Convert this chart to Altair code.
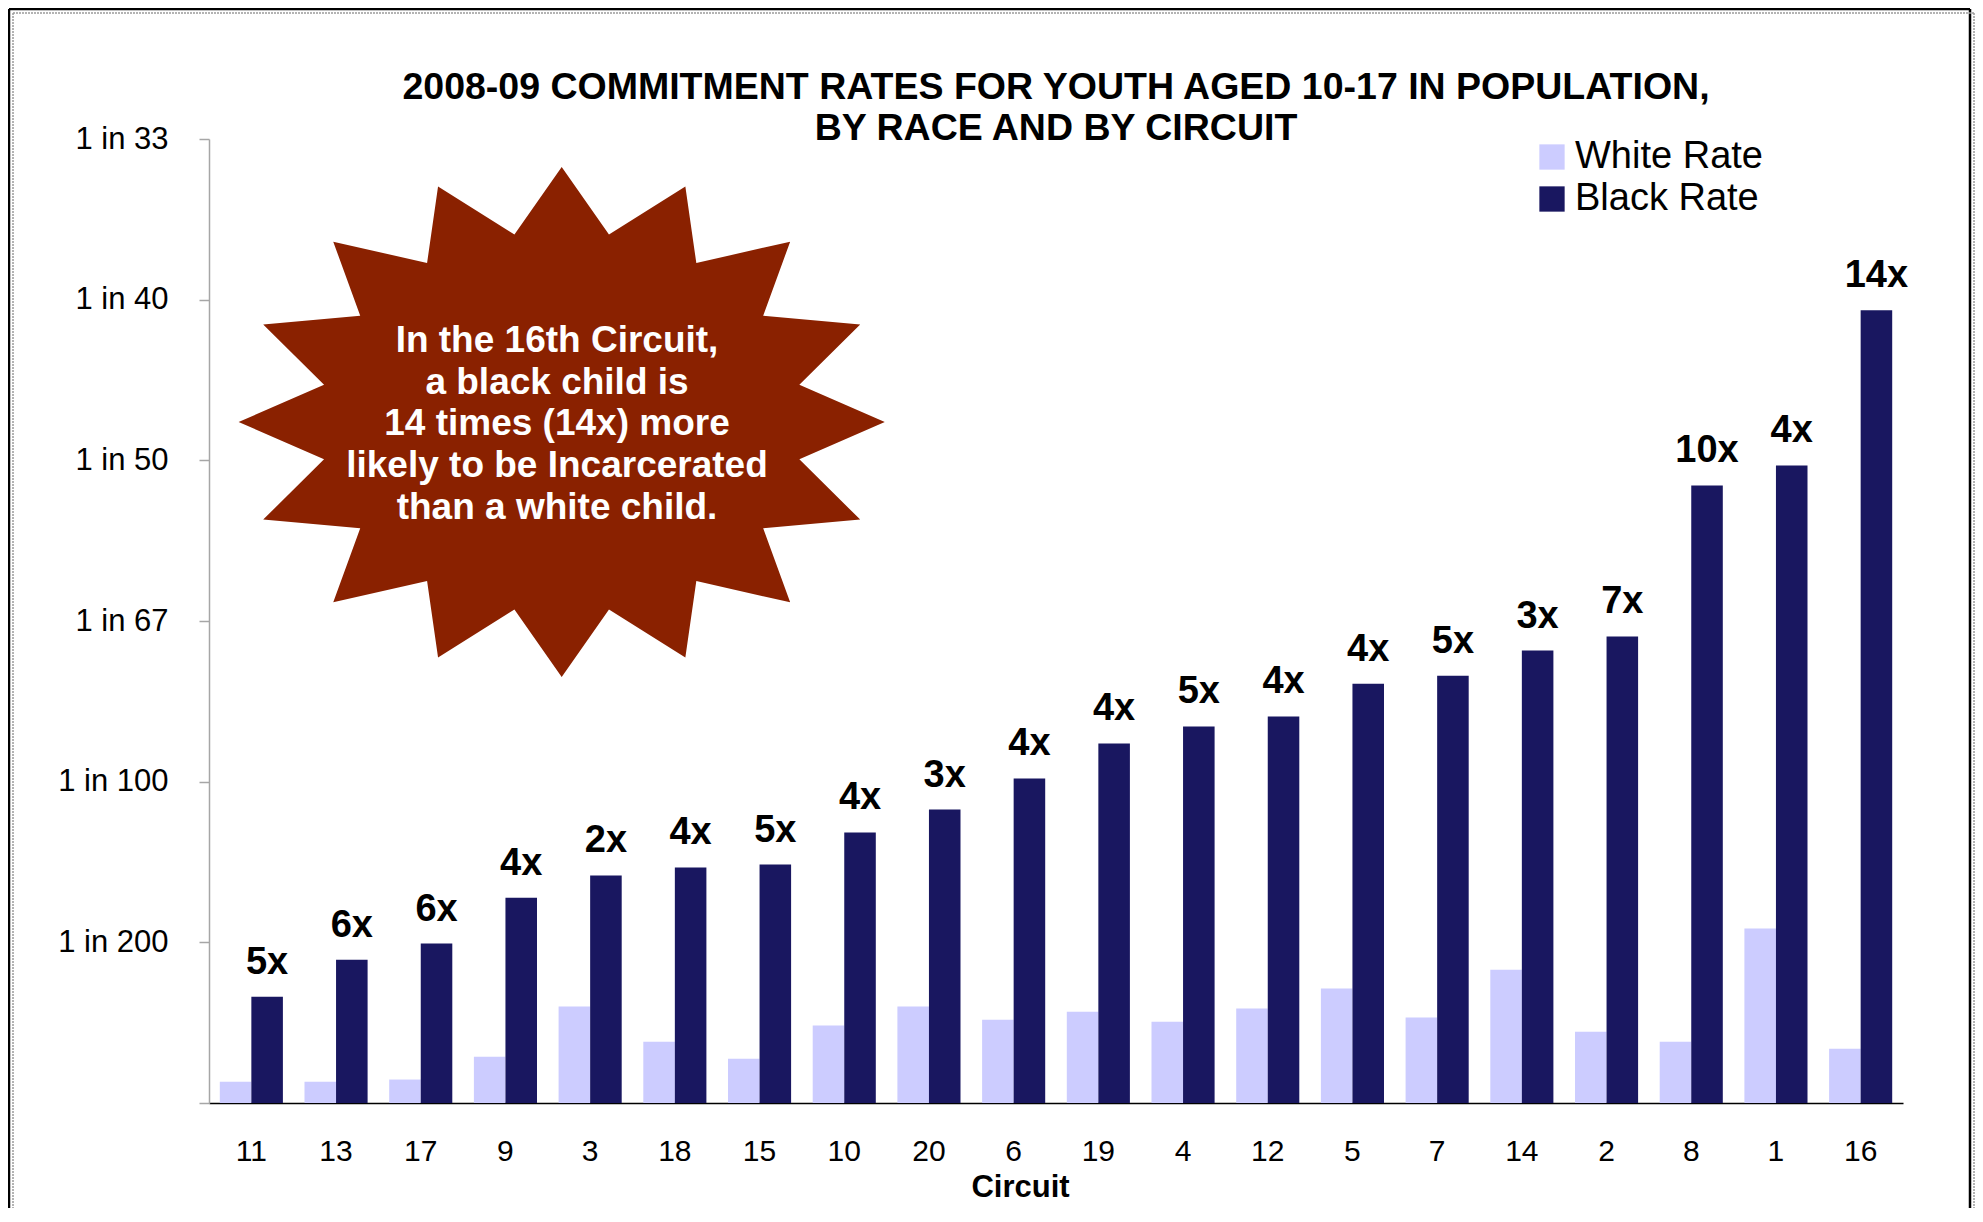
import json
import math
import altair as alt
import pandas as pd

# ---------------- data ----------------
circuits = ["11", "13", "17", "9", "3", "18", "15", "10", "20", "6",
            "19", "4", "12", "5", "7", "14", "2", "8", "1", "16"]
white_rate = [0.00066, 0.00066, 0.00073, 0.00144, 0.00300, 0.00191, 0.00138, 0.00241, 0.00300, 0.00259,
              0.00284, 0.00253, 0.00294, 0.00356, 0.00266, 0.00415, 0.00222, 0.00191, 0.00543, 0.00169]
black_rate = [0.00331, 0.00446, 0.00496, 0.00639, 0.00708, 0.00733, 0.00742, 0.00842, 0.00913, 0.01010,
              0.01119, 0.01172, 0.01203, 0.01305, 0.01330, 0.01408, 0.01452, 0.01922, 0.01984, 0.02467]
ratio_labels = ["5x", "6x", "6x", "4x", "2x", "4x", "5x", "4x", "3x", "4x",
                "4x", "5x", "4x", "4x", "5x", "3x", "7x", "10x", "4x", "14x"]
series_names = ["White Rate", "Black Rate"]
series_colors = ["#CCCCFF", "#191760"]
y_tick_values = [0, 0.005, 0.01, 0.015, 0.02, 0.025, 0.03]
y_tick_labels = ["", "1 in 200", "1 in 100", "1 in 67", "1 in 50", "1 in 40", "1 in 33"]
title_lines = ["2008-09 COMMITMENT RATES FOR YOUTH AGED 10-17 IN POPULATION,",
               "BY RACE AND BY CIRCUIT"]
callout_lines = ["In the 16th Circuit,", "a black child is", "14 times (14x) more",
                 "likely to be Incarcerated", "than a white child."]
x_title = "Circuit"

FONT = "Liberation Sans"
W, H = 1694, 964

rows = []
for i, c in enumerate(circuits):
    rows.append({"Circuit": c, "Race": series_names[0], "Rate": white_rate[i], "Label": ""})
    rows.append({"Circuit": c, "Race": series_names[1], "Rate": black_rate[i], "Label": ratio_labels[i]})
df = pd.DataFrame(rows)
one = pd.DataFrame({"k": [0]})

label_expr = f"{json.dumps(y_tick_labels)}[indexof({json.dumps(y_tick_values)}, datum.value)]"

x_scale = alt.Scale(paddingInner=0.255, paddingOuter=0.1275)
x_axis = alt.Axis(
    title=x_title, labelFontSize=30, labelFont=FONT, labelColor="black", labelPadding=33.5,
    labelAngle=0, ticks=False, tickSize=0, domainColor="black", domainWidth=1.5,
    titleFont=FONT, titleFontSize=31, titleFontWeight="bold", titleColor="black",
    titleX=811, titleY=93, titleAlign="center", titleBaseline="alphabetic",
)
y_axis = alt.Axis(
    values=y_tick_values, labelExpr=label_expr, title=None, grid=False,
    domainColor="#A6A6A6", domainWidth=1.5, tickColor="#A6A6A6", tickSize=10, tickWidth=1.5,
    labelFontSize=31, labelFont=FONT, labelColor="black", labelPadding=31,
)
xoff = alt.XOffset("Race:N", scale=alt.Scale(domain=series_names, paddingInner=0, paddingOuter=0))
y_enc = alt.Y("Rate:Q", scale=alt.Scale(domain=[0, 0.03], nice=False, zero=True), axis=y_axis)

bars = alt.Chart(df).mark_bar(strokeWidth=0, opacity=1).encode(
    x=alt.X("Circuit:N", sort=circuits, scale=x_scale, axis=x_axis),
    xOffset=xoff,
    y=y_enc,
    color=alt.Color(
        "Race:N",
        scale=alt.Scale(domain=series_names, range=series_colors),
        legend=alt.Legend(
            title=None, orient="none", legendX=1324, legendY=-1, direction="vertical",
            labelFontSize=38, labelFont=FONT, labelColor="black", labelLimit=500,
            symbolType="square", symbolSize=640, symbolStrokeWidth=0, symbolOpacity=1,
            labelOffset=4, rowPadding=4, padding=0,
        ),
    ),
)

labels = alt.Chart(df).transform_filter(
    alt.datum.Race == series_names[1]
).mark_text(
    font=FONT, fontSize=38, fontWeight="bold", color="black",
    align="center", baseline="alphabetic", dy=-23,
).encode(
    x=alt.X("Circuit:N", sort=circuits),
    xOffset=xoff,
    y=alt.Y("Rate:Q"),
    text="Label:N",
)

# starburst call-out (decoration)
pts = []
for k in range(32):
    a = -math.pi / 2 + k * math.pi / 16
    r = 1.0 if k % 2 == 0 else 0.75
    pts.append((1.267 * r * math.cos(a), r * math.sin(a)))
star_path = "M" + " L".join(f"{px:.4f},{py:.4f}" for px, py in pts) + " Z"

star = alt.Chart(one).mark_point(
    shape=star_path, size=510 * 510, filled=True, fill="#8A2100", opacity=1, strokeWidth=0,
).encode(x=alt.value(352.7), y=alt.value(283))

LH = 41.7
star_text = alt.Chart(one).mark_text(
    text=callout_lines, font=FONT, fontSize=37, fontWeight="bold", color="white",
    align="center", baseline="middle", lineHeight=LH,
).encode(x=alt.value(348), y=alt.value(285.5 - 2 * LH))


# frame lines (decoration, pixel positions relative to the plot origin)
def hrule(x1, x2, y, color, width, dash=None):
    kw = dict(color=color, strokeWidth=width)
    if dash:
        kw["strokeDash"] = dash
    return alt.Chart(one).mark_rule(**kw).encode(
        x=alt.value(x1), x2=alt.value(x2), y=alt.value(y))


def vrule(x, y1, y2, color, width, dash=None):
    kw = dict(color=color, strokeWidth=width)
    if dash:
        kw["strokeDash"] = dash
    return alt.Chart(one).mark_rule(**kw).encode(
        x=alt.value(x), y=alt.value(y1), y2=alt.value(y2))


frame = [
    hrule(-200, 1761, -130, "black", 2.5),
    vrule(-200, -130, 1076, "black", 2.5),
    vrule(1761, -130, 1076, "black", 2.5),
    hrule(-196, 1765, -126, "#9A9A9A", 1.5, [2, 1]),
    vrule(-196, -126, 1076, "#9A9A9A", 1.5, [2, 1]),
    vrule(1765, -126, 1076, "#9A9A9A", 1.5, [2, 1]),
]

chart = alt.layer(*frame, bars, labels, star, star_text).properties(
    width=W, height=H,
    padding={"left": 201, "top": 131, "right": 72, "bottom": 105},
    autosize=alt.AutoSizeParams(type="none"),
    background="white",
    title=alt.TitleParams(
        text=title_lines, font=FONT, fontSize=37.5, fontWeight="bold", color="black",
        anchor="middle", frame="group", offset=-140, lineHeight=41.7,
    ),
).configure_view(stroke=None)

chart.save("out.html", embed_options={"renderer": "svg", "actions": False})
